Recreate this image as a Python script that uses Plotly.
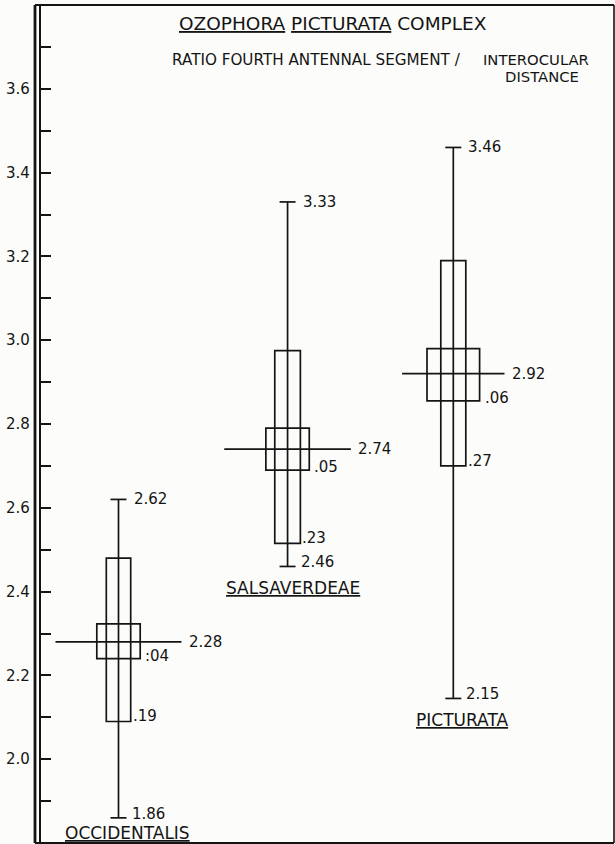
import plotly.graph_objects as go

# ---------------- data ----------------
SPECIES = ["OCCIDENTALIS", "SALSAVERDEAE", "PICTURATA"]
MEANS = [2.28, 2.74, 2.92]
RANGE_MIN = [1.86, 2.46, 2.145]
RANGE_MAX = [2.62, 3.33, 3.46]
SD_LOW = [2.09, 2.515, 2.70]
SD_HIGH = [2.48, 2.975, 3.19]
SE_LOW = [2.24, 2.69, 2.855]
SE_HIGH = [2.323, 2.79, 2.98]
MEAN_TEXT = ["2.28", "2.74", "2.92"]
MIN_TEXT = ["1.86", "2.46", "2.15"]
MAX_TEXT = ["2.62", "3.33", "3.46"]
SD_TEXT = [".19", ".23", ".27"]
SE_TEXT = [":04", ".05", ".06"]
TICK_VALUES = [1.9, 2.0, 2.1, 2.2, 2.3, 2.4, 2.5, 2.6, 2.7, 2.8, 2.9, 3.0,
               3.1, 3.2, 3.3, 3.4, 3.5, 3.6, 3.7]
TICK_LABELS = ["", "2.0", "", "2.2", "", "2.4", "", "2.6", "", "2.8", "",
               "3.0", "", "3.2", "", "3.4", "", "3.6", ""]
TITLE = "<u>OZOPHORA</u> <u>PICTURATA</u> COMPLEX"
SUBTITLE_LEFT = "RATIO FOURTH ANTENNAL SEGMENT /"
SUBTITLE_RIGHT_1 = "INTEROCULAR"
SUBTITLE_RIGHT_2 = "DISTANCE"

# ---------------- layout constants ----------------
W, H = 615, 844
ML, MR, MT, MB = 41, 1, 5, 1
PLOT_W = W - ML - MR
CAT_X = [1.0, 2.01, 3.0]
PX = 167.4                       # pixels per x unit
X0 = 1.0 - 77.5 / PX
X1 = X0 + PLOT_W / PX
SD_HALF = [12.2 / PX, 12.8 / PX, 12.5 / PX]
SE_HALF = [21.7 / PX, 21.7 / PX, 26.3 / PX]
MEAN_HALF = [63.0 / PX, 63.3 / PX, 51.2 / PX]
CAP_HALF = 8.0 / PX
CAT_LABEL_DX = [9, 5, 9]
CAT_LABEL_DY = [-12, -19, -19]

INK = "#141414"
BG = "#fcfcfa"
FONT = "DejaVu Sans"
LW = 1.7

fig = go.Figure()
# invisible trace so axes exist
fig.add_trace(go.Scatter(x=CAT_X, y=MEANS, mode="markers",
                         marker=dict(size=1, color="rgba(0,0,0,0)"),
                         hoverinfo="skip", showlegend=False))

shapes = []
annotations = []


def line(x0, y0, x1, y1, w=LW, xref="x", yref="y"):
    shapes.append(dict(type="line", xref=xref, yref=yref, x0=x0, y0=y0,
                       x1=x1, y1=y1, line=dict(color=INK, width=w)))


def rect(x0, y0, x1, y1, w=LW):
    shapes.append(dict(type="rect", xref="x", yref="y", x0=x0, y0=y0,
                       x1=x1, y1=y1, line=dict(color=INK, width=w),
                       fillcolor="rgba(0,0,0,0)"))


def label(x, y, text, xanchor="left", yanchor="middle", xshift=0, yshift=0,
          size=15):
    annotations.append(dict(x=x, y=y, xref="x", yref="y", text=text,
                            showarrow=False, xanchor=xanchor, yanchor=yanchor,
                            xshift=xshift, yshift=yshift,
                            font=dict(family=FONT, size=size, color=INK)))


for i, c in enumerate(CAT_X):
    # range line and caps
    line(c, RANGE_MIN[i], c, RANGE_MAX[i])
    line(c - CAP_HALF, RANGE_MAX[i], c + CAP_HALF, RANGE_MAX[i])
    line(c - CAP_HALF, RANGE_MIN[i], c + CAP_HALF, RANGE_MIN[i])
    # SD box and SE box
    rect(c - SD_HALF[i], SD_LOW[i], c + SD_HALF[i], SD_HIGH[i])
    rect(c - SE_HALF[i], SE_LOW[i], c + SE_HALF[i], SE_HIGH[i])
    # mean line
    line(c - MEAN_HALF[i], MEANS[i], c + MEAN_HALF[i], MEANS[i])

    label(c, RANGE_MAX[i], MAX_TEXT[i], xshift=13)
    label(c, RANGE_MIN[i], MIN_TEXT[i], xshift=11, yshift=4)
    label(c + MEAN_HALF[i], MEANS[i], MEAN_TEXT[i], xshift=5)
    label(c + SE_HALF[i], SE_LOW[i], SE_TEXT[i], xshift=3, yshift=3)
    label(c + SD_HALF[i], SD_LOW[i], SD_TEXT[i], xshift=0, yshift=5)
    label(c, RANGE_MIN[i], "<u>" + SPECIES[i] + "</u>", xanchor="center",
          yanchor="top", xshift=CAT_LABEL_DX[i], yshift=CAT_LABEL_DY[i] + 9,
          size=17)

# frame: outer left line, top, bottom and right borders
xl = -6 / PLOT_W
line(xl, 0, xl, 1, w=2.8, xref="paper", yref="paper")
line(xl, 1, 1, 1, w=2.2, xref="paper", yref="paper")
line(xl, 0, 1, 0, w=2.2, xref="paper", yref="paper")
line(1, 0, 1, 1, w=1.6, xref="paper", yref="paper")


def ptext(x, y, text, size, xanchor="center"):
    annotations.append(dict(x=x, y=y, xref="paper", yref="paper", text=text,
                            showarrow=False, xanchor=xanchor,
                            yanchor="middle",
                            font=dict(family=FONT, size=size, color=INK)))


def px_x(p):
    return (p - ML) / PLOT_W


def px_y(p):
    return 1 - (p - MT) / (H - MT - MB)


ptext(px_x(333), px_y(24), TITLE, 18.5)
ptext(px_x(170), px_y(60), SUBTITLE_LEFT, 15.2, xanchor="left")
ptext(px_x(591), px_y(60), SUBTITLE_RIGHT_1, 14.8, xanchor="right")
ptext(px_x(581), px_y(76), SUBTITLE_RIGHT_2, 14.8, xanchor="right")

fig.update_layout(
    width=W, height=H,
    margin=dict(l=ML, r=MR, t=MT, b=MB, autoexpand=False),
    paper_bgcolor=BG, plot_bgcolor=BG,
    showlegend=False,
    shapes=shapes,
    annotations=annotations,
    xaxis=dict(range=[X0, X1], showgrid=False, zeroline=False,
               showticklabels=False, ticks="", showline=False,
               fixedrange=True),
    yaxis=dict(range=[1.8, 3.8], showgrid=False, zeroline=False,
               showline=True, linecolor=INK, linewidth=2.2,
               ticks="inside", ticklen=10, tickwidth=1.6, tickcolor=INK,
               tickvals=TICK_VALUES, ticktext=TICK_LABELS,
               ticklabelstandoff=6,
               tickfont=dict(family=FONT, size=15, color=INK),
               fixedrange=True),
)

fig.write_html(
    "out.html",
    config={"displayModeBar": False},
    post_script="document.body.style.margin='0px';"
                "document.body.style.overflow='hidden';"
                "document.body.style.background='" + BG + "';",
)
